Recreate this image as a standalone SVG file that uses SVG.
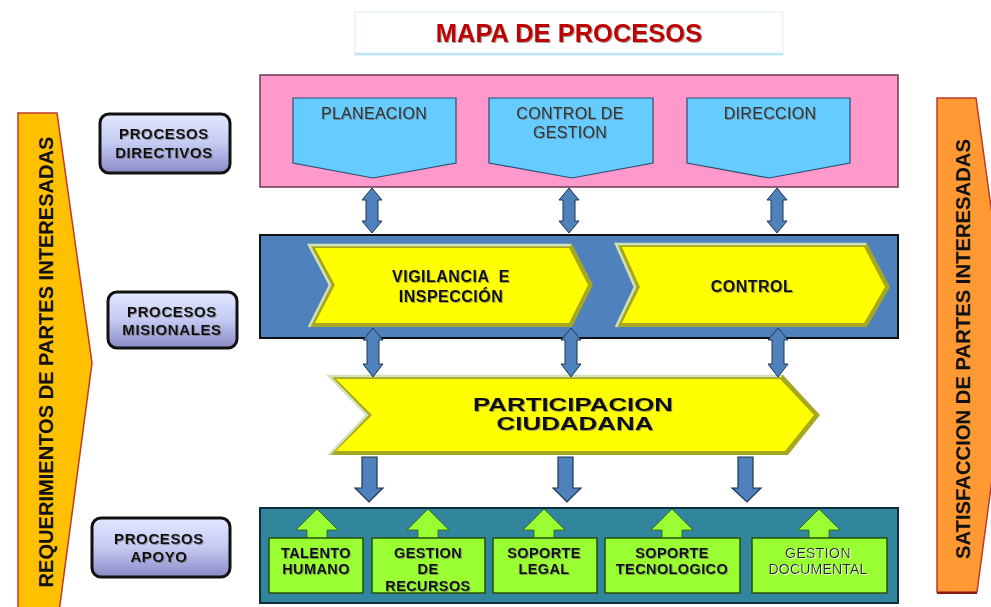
<svg xmlns="http://www.w3.org/2000/svg" width="991" height="607" viewBox="0 0 991 607">
<defs>
<linearGradient id="lbl" x1="0" y1="0" x2="0" y2="1">
<stop offset="0" stop-color="#E2E8FF"/>
<stop offset="0.5" stop-color="#C4CAF2"/>
<stop offset="1" stop-color="#8A8AC8"/>
</linearGradient>
<filter id="ts" x="-10%" y="-30%" width="120%" height="160%">
<feDropShadow dx="1" dy="1" stdDeviation="0.6" flood-color="#666" flood-opacity="0.6"/>
</filter>
<filter id="wg" x="-10%" y="-30%" width="120%" height="160%">
<feDropShadow dx="0.8" dy="0.8" stdDeviation="0.5" flood-color="#fff" flood-opacity="1"/>
</filter>
</defs>
<style>
text{font-family:"Liberation Sans",Arial,sans-serif;}
.lbl{fill:url(#lbl);stroke:#111;stroke-width:3;}
.lt{font-size:15px;font-weight:bold;fill:#111;text-anchor:middle;letter-spacing:0.6px;}
.pent{fill:#66CCFF;stroke:#2A4E6E;stroke-width:1.2;}
.pt{font-size:16px;fill:#333;text-anchor:middle;letter-spacing:0.3px;}
.chevo{fill:#A8A820;}
.cheve{fill:none;stroke:#CFE2B8;stroke-width:2.5;}
.chevi{fill:#FFFF00;}
.ct{font-size:16px;font-weight:bold;fill:#111;text-anchor:middle;letter-spacing:0.5px;}
.dbl{fill:#4F81BD;stroke:#1E3550;stroke-width:1;}
.dn{fill:#4F81BD;stroke:#1E3550;stroke-width:1.2;}
.up{fill:#99FF33;stroke:#2E5E10;stroke-width:0.8;}
.gb{fill:#99FF33;stroke:#24500E;stroke-width:1.5;}
.gt{font-size:14.5px;font-weight:bold;fill:#111;text-anchor:middle;letter-spacing:0.4px;}
.vt{font-size:21px;font-weight:bold;fill:#111;text-anchor:middle;}
</style>

<g id="requerimientos">
<polygon points="18,113 57,113 92,363 59,612 18,612" fill="#FFC000" stroke="#C0392B" stroke-width="1.5"/>
<text class="vt" transform="translate(53,362) rotate(-90)" textLength="451" lengthAdjust="spacingAndGlyphs">REQUERIMIENTOS DE PARTES INTERESADAS</text>
</g>

<g id="satisfaccion">
<polygon points="937,98 976,98 1010,345 977,592 937,592" fill="#FF9933" stroke="#C0392B" stroke-width="1.5"/>
<line x1="937" y1="593" x2="977" y2="593" stroke="#8B1A10" stroke-width="2"/>
<text class="vt" transform="translate(970,349) rotate(-90)" textLength="420" lengthAdjust="spacingAndGlyphs">SATISFACCION DE PARTES INTERESADAS</text>
</g>

<g id="titulo">
<rect x="355" y="12" width="428" height="43" fill="#fff" stroke="#DDEEF5" stroke-width="1"/>
<line x1="355" y1="54" x2="783" y2="54" stroke="#BDE6F5" stroke-width="2.5"/>
<text x="569" y="42" font-size="25.5" font-weight="bold" fill="#C00000" text-anchor="middle" filter="url(#ts)">MAPA DE PROCESOS</text>
</g>

<g id="procesos-directivos">
<rect class="lbl" x="100" y="114" width="130" height="59" rx="9"/>
<text class="lt" x="164" y="139" filter="url(#ts)">PROCESOS</text>
<text class="lt" x="164" y="158" filter="url(#ts)">DIRECTIVOS</text>
</g>
<g id="procesos-misionales">
<rect class="lbl" x="108" y="292" width="129" height="56" rx="9"/>
<text class="lt" x="172" y="317" filter="url(#ts)">PROCESOS</text>
<text class="lt" x="172" y="335" filter="url(#ts)">MISIONALES</text>
</g>
<g id="procesos-apoyo">
<rect class="lbl" x="92" y="518" width="138" height="59" rx="9"/>
<text class="lt" x="159" y="544" filter="url(#ts)">PROCESOS</text>
<text class="lt" x="159" y="562" filter="url(#ts)">APOYO</text>
</g>

<g id="bloque-directivo">
<rect x="260" y="75" width="638" height="112" fill="#FF99CC" stroke="#6E3A55" stroke-width="1.5"/>
</g>
<g id="planeacion">
<polygon class="pent" points="293,98 456,98 456,163 373,178 293,163"/>
<text class="pt" x="374" y="119" filter="url(#ts)">PLANEACION</text>
</g>
<g id="control-gestion">
<polygon class="pent" points="489,98 653,98 653,163 572,178 489,163"/>
<text class="pt" x="570" y="119" filter="url(#ts)">CONTROL DE</text>
<text class="pt" x="570" y="138" filter="url(#ts)">GESTION</text>
</g>
<g id="direccion">
<polygon class="pent" points="687,98 850,98 850,163 769,178 687,163"/>
<text class="pt" x="770" y="119" filter="url(#ts)">DIRECCION</text>
</g>

<g id="bloque-misional">
<rect x="260" y="235" width="638" height="103" fill="#4F81BD" stroke="#111" stroke-width="2"/>
</g>
<g id="vigilancia">
<polygon class="chevo" points="308,244 572,244 593,285 572,327 308,327 330,285"/>
<polyline class="cheve" points="309,327 330,285 309,245 571,245"/>
<polygon class="chevi" points="315,248 569,248 588,285 569,323 315,323 335,285"/>
<text class="ct" x="451" y="282" xml:space="preserve" filter="url(#ts)">VIGILANCIA  E</text>
<text class="ct" x="451" y="302" filter="url(#ts)">INSPECCIÓN</text>
</g>
<g id="control">
<polygon class="chevo" points="615,243 867,243 890,287 867,327 615,327 635,287"/>
<polyline class="cheve" points="616,327 635,287 616,244 866,244"/>
<polygon class="chevi" points="622,247 864,247 885,287 864,323 622,323 640,287"/>
<text class="ct" x="752" y="292" filter="url(#ts)">CONTROL</text>
</g>

<g id="participacion">
<polygon class="chevo" points="328,375 783,375 820,415 788,455 328,455 367,415"/>
<polyline class="cheve" points="329,455 367,415 329,376 782,376"/>
<polygon class="chevi" points="336,379 780,379 814,415 785,451 336,451 372,415"/>
<text x="573" y="411" font-size="18" font-weight="bold" fill="#111" text-anchor="middle" textLength="200" lengthAdjust="spacingAndGlyphs" filter="url(#ts)">PARTICIPACION</text>
<text x="575" y="430" font-size="18" font-weight="bold" fill="#111" text-anchor="middle" textLength="157" lengthAdjust="spacingAndGlyphs" filter="url(#ts)">CIUDADANA</text>
</g>

<g id="bloque-apoyo">
<rect x="260" y="508" width="638" height="95" fill="#31859C" stroke="#0F2E38" stroke-width="2"/>
</g>

<g id="connectors">
<polygon class="dbl" points="372,188 382,200 378,200 378,221 382,221 372,233 362,221 366,221 366,200 362,200"/>
<polygon class="dbl" points="569,188 579,200 575,200 575,221 579,221 569,233 559,221 563,221 563,200 559,200"/>
<polygon class="dbl" points="777,188 787,200 783,200 783,221 787,221 777,233 767,221 771,221 771,200 767,200"/>
<polygon class="dbl" points="373,328 383,340 379,340 379,364 383,364 373,377 363,364 367,364 367,340 363,340"/>
<polygon class="dbl" points="571,328 581,340 577,340 577,364 581,364 571,377 561,364 565,364 565,340 561,340"/>
<polygon class="dbl" points="778,328 788,340 784,340 784,364 788,364 778,377 768,364 772,364 772,340 768,340"/>
<polygon class="dn" points="362,457 377,457 377,488 383,488 369,502 355,488 362,488"/>
<polygon class="dn" points="558,457 573,457 573,488 581,488 567,502 553,488 558,488"/>
<polygon class="dn" points="738,457 753,457 753,488 761,488 747,502 732,488 738,488"/>
<polygon class="up" points="317,509 338,530 327,530 327,539 307,539 307,530 296,530"/>
<polygon class="up" points="428,509 449,530 438,530 438,539 418,539 418,530 407,530"/>
<polygon class="up" points="544,509 565,530 554,530 554,539 534,539 534,530 523,530"/>
<polygon class="up" points="672,509 693,530 682,530 682,539 662,539 662,530 651,530"/>
<polygon class="up" points="819,509 840,530 829,530 829,539 809,539 809,530 798,530"/>
</g>

<g id="talento-humano">
<rect class="gb" x="269" y="538" width="94" height="55"/>
<text class="gt" x="316" y="558" filter="url(#ts)">TALENTO</text>
<text class="gt" x="316" y="574" filter="url(#ts)">HUMANO</text>
</g>
<g id="gestion-recursos">
<rect class="gb" x="372" y="538" width="113" height="55"/>
<text class="gt" x="428" y="558" filter="url(#ts)">GESTION</text>
<text class="gt" x="428" y="574" filter="url(#ts)">DE</text>
<text class="gt" x="428" y="591" filter="url(#ts)">RECURSOS</text>
</g>
<g id="soporte-legal">
<rect class="gb" x="493" y="538" width="104" height="55"/>
<text class="gt" x="544" y="558" filter="url(#ts)">SOPORTE</text>
<text class="gt" x="544" y="574" filter="url(#ts)">LEGAL</text>
</g>
<g id="soporte-tecnologico">
<rect class="gb" x="605" y="538" width="135" height="55"/>
<text class="gt" x="672" y="558" filter="url(#ts)">SOPORTE</text>
<text class="gt" x="672" y="574" filter="url(#ts)">TECNOLOGICO</text>
</g>
<g id="gestion-documental">
<rect class="gb" x="752" y="538" width="135" height="55"/>
<text x="818" y="558" font-size="14" fill="#222" text-anchor="middle" letter-spacing="0.4" filter="url(#wg)">GESTION</text>
<text x="818" y="574" font-size="14" fill="#222" text-anchor="middle" letter-spacing="0.2" filter="url(#wg)">DOCUMENTAL</text>
</g>
</svg>
